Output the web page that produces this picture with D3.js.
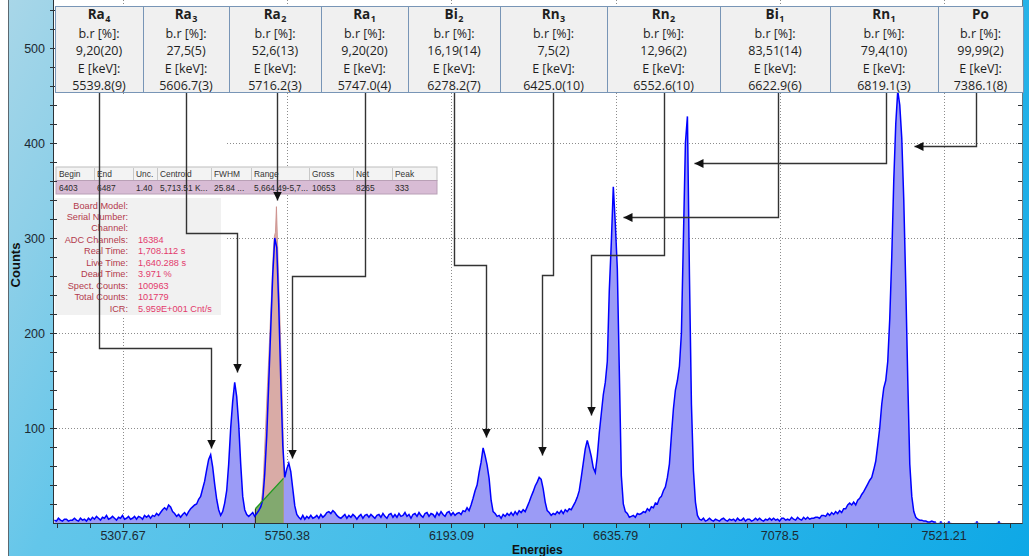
<!DOCTYPE html>
<html>
<head>
<meta charset="utf-8">
<script src="https://cdn.jsdelivr.net/npm/d3@7"></script>
<style>
  html, body { margin: 0; padding: 0; background: #fff; }
  svg { display: block; }
</style>
</head>
<body>
<svg id="chart" width="1029" height="556"></svg>
<script>
// ---------------- data ----------------
// Alpha spectrum, counts per 5.4 keV bin starting at 5120 keV
const binStart = 5120;
const binWidth = 5.4;
const spectrumCounts = [
  3,2,5,3,2,4,4,2,3,3,
  5,3,2,5,3,4,2,5,3,6,
  4,7,5,3,6,5,8,4,5,7,
  5,3,6,5,8,4,5,7,4,5,
  7,4,7,6,4,8,6,8,5,8,
  7,10,8,11,14,16,14,19,17,12,
  10,7,9,6,9,11,8,12,15,17,
  19,20,25,28,36,44,56,67,72,59,
  41,25,14,8,12,21,34,62,100,128,
  148,133,104,62,28,14,9,7,9,11,
  7,10,13,17,24,52,92,148,205,262,
  300,290,228,150,82,48,57,63,54,36,
  18,9,6,4,8,4,7,5,8,5,
  6,8,5,9,6,8,11,12,10,13,
  11,8,6,5,7,9,5,8,6,9,
  7,4,7,9,5,8,9,6,9,7,
  5,8,9,6,10,7,5,9,10,6,
  9,6,10,7,8,11,7,9,5,9,
  10,7,11,8,6,10,11,7,10,9,
  6,11,8,12,9,7,11,12,8,11,
  8,10,11,9,13,12,16,13,19,26,
  34,40,53,64,79,71,61,47,24,12,
  10,7,8,5,9,7,10,8,11,8,
  12,9,13,11,14,12,17,22,28,33,
  39,43,48,46,36,22,13,11,8,10,
  9,12,10,13,10,14,12,15,14,18,
  22,27,34,48,63,78,87,79,70,58,
  53,70,95,115,135,148,170,245,295,354,
  315,268,160,50,20,12,10,6,7,8,
  6,10,9,10,12,11,15,13,17,16,
  21,20,26,28,34,38,48,62,92,120,
  140,150,165,200,300,400,428,262,125,55,
  22,8,4,3,5,2,3,5,3,2,
  4,3,2,4,5,3,2,4,3,4,
  2,5,3,3,5,2,4,4,2,3,
  5,3,5,3,2,4,3,5,3,5,
  3,4,2,5,5,3,4,3,6,4,
  3,6,4,3,6,4,6,4,5,5,
  6,6,5,8,8,7,10,8,11,9,
  12,10,13,11,15,15,19,21,19,22,
  19,24,26,30,33,37,41,45,48,56,
  65,82,100,125,142,150,170,215,280,360,
  420,455,440,405,340,250,150,62,28,12,
  6,4,3,3,2,2,1,1,2,1,
  1,0,1,1,0,0,1,1,0,0,
  0,0,0,0,0,0,0,0,0,0,
  1,1,0,0,0,0,0,0,0,0,
  0,1,1,0,0,0,0,0,0,0,
  0,0,0
];

// Region of interest (Ra-2 line): channel contents and linear background
const roiStart = 5664.49;
const roiStep = 2.7;
const roiCounts = [14,15,16,17,18,20,24,32,48,72,96,120,144,166,190,214,238,264,288,302,306,333,300,264,232,198,164,124,80];
const roiBackground = [15, 47];

// Peak annotations
const peakNames   = ["Ra", "Ra", "Ra", "Ra", "Bi", "Rn", "Rn", "Bi", "Rn", "Po"];
const peakSubs    = ["4", "3", "2", "1", "2", "3", "2", "1", "1", ""];
const peakBr      = ["9,20(20)", "27,5(5)", "52,6(13)", "9,20(20)", "16,19(14)", "7,5(2)", "12,96(2)", "83,51(14)", "79,4(10)", "99,99(2)"];
const peakEnergy  = ["5539.8(9)", "5606.7(3)", "5716.2(3)", "5747.0(4)", "6278.2(7)", "6425.0(10)", "6552.6(10)", "6622.9(6)", "6819.1(3)", "7386.1(8)"];
// arrow routes in keV / counts: leave header at `from`, turn at `elbow`, end at `tip`
const arrowRoutes = [
  { from: 5242.9, elbow: 184.2, tip: [5544.8, 78.9] },
  { from: 5476.1, elbow: 305.3, tip: [5616.2, 158.9] },
  { from: 5722.7, elbow: null,  tip: [5722.7, 340.0] },
  { from: 5959.9, elbow: 260.0, tip: [5763.2, 68.4] },
  { from: 6201.2, elbow: 271.6, tip: [6286.1, 90.5] },
  { from: 6465.4, elbow: 261.1, tip: [6437.1, 71.6] },
  { from: 6766.0, elbow: 282.1, tip: [6569.2, 113.7] },
  { from: 7073.3, elbow: 322.1, tip: [6655.4, 322.1] },
  { from: 7364.4, elbow: 378.9, tip: [6846.8, 378.9] },
  { from: 7608.3, elbow: 396.8, tip: [7439.9, 396.8] }
];

// Axis ticks
const xMajorTicks = [5307.67, 5750.38, 6193.09, 6635.79, 7078.5, 7521.21];
const yMajorTicks = [100, 200, 300, 400, 500];

// ROI table and acquisition info
const tableHeaders = ["Begin", "End", "Unc.", "Centroid", "FWHM", "Range", "Gross", "Net", "Peak"];
const tableValues  = ["6403", "6487", "1.40", "5,713.51 K...", "25.84 ...", "5,664.49-5,7...", "10653", "8265", "333"];
const infoLabels = ["Board Model:", "Serial Number:", "Channel:", "ADC Channels:", "Real Time:", "Live Time:", "Dead Time:", "Spect. Counts:", "Total Counts:", "ICR:"];
const infoValues = ["", "", "", "16384", "1,708.112 s", "1,640.288 s", "3.971 %", "100963", "101779", "5.959E+001 Cnt/s"];

// ---------------- layout ----------------
const W = 1029, H = 556;
const plotL = 53, plotR = 1022, plotB = 523;
const boxEdges = [55, 143, 229, 321, 408, 500, 607, 720, 830, 938, 1023];
const boxTop = 6, boxBottom = 92;
const tableCols = [56, 94, 133, 157, 211, 251, 309, 353, 392, 437];

const x = d3.scaleLinear().domain([5118.9, 7731]).range([plotL, plotR]);
const y = d3.scaleLinear().domain([0, 545]).range([plotB, 5.25]);

const svg = d3.select("#chart");
const defs = svg.append("defs");

// window background
const grad = defs.append("linearGradient").attr("id", "bg")
  .attr("gradientUnits", "userSpaceOnUse")
  .attr("x1", 0).attr("y1", 0).attr("x2", W).attr("y2", H);
[[0, "#aad7e8"], [0.12, "#8ccfe8"], [0.25, "#63c6ea"], [0.6, "#3bbbe9"], [1, "#0ea8e6"]]
  .forEach(([o, c]) => grad.append("stop").attr("offset", o).attr("stop-color", c));

defs.append("clipPath").attr("id", "plotClip").append("rect")
  .attr("x", plotL).attr("y", 0).attr("width", plotR - plotL).attr("height", plotB);

defs.append("marker").attr("id", "arrowHead")
  .attr("markerUnits", "userSpaceOnUse")
  .attr("markerWidth", 10).attr("markerHeight", 10)
  .attr("refX", 9).attr("refY", 4.5).attr("orient", "auto")
  .append("path").attr("d", "M0,0 L9,4.5 L0,9 Z").attr("fill", "#111");

svg.append("rect").attr("width", W).attr("height", H).attr("fill", "url(#bg)");
svg.append("rect").attr("x", 0).attr("y", 0).attr("width", 8).attr("height", H).attr("fill", "#fff");
svg.append("line").attr("x1", 8.5).attr("x2", 8.5).attr("y1", 0).attr("y2", H)
  .attr("stroke", "#5b6870").attr("stroke-width", 1);

// plot area
svg.append("rect").attr("x", plotL).attr("y", 0)
  .attr("width", plotR - plotL + 1).attr("height", plotB).attr("fill", "#fff");

// dotted grid
const grid = svg.append("g").attr("stroke", "#8c8c8c").attr("stroke-width", 1)
  .attr("stroke-dasharray", "1,2");
xMajorTicks.forEach(v => grid.append("line")
  .attr("x1", Math.round(x(v)) + 0.5).attr("x2", Math.round(x(v)) + 0.5)
  .attr("y1", 0).attr("y2", plotB));
yMajorTicks.forEach(v => grid.append("line")
  .attr("x1", plotL).attr("x2", plotR)
  .attr("y1", Math.round(y(v)) + 0.5).attr("y2", Math.round(y(v)) + 0.5));

// spectrum
const spec = spectrumCounts.map((c, i) => ({ e: binStart + binWidth * (i + 0.5), c }));
const roi = roiCounts.map((c, k) => ({ e: roiStart + roiStep * k, c }));
const roiEnd = roiStart + roiStep * (roiCounts.length - 1);

const gSpec = svg.append("g").attr("clip-path", "url(#plotClip)");
gSpec.append("path").datum(spec)
  .attr("fill", "#9b9bf6")
  .attr("d", d3.area().x(d => x(d.e)).y0(y(0)).y1(d => y(d.c)));

gSpec.append("path").datum(roi)
  .attr("fill", "#d9aba6").attr("stroke", "#c98a86").attr("stroke-width", 0.8)
  .attr("d", d3.area().x(d => x(d.e)).y0(y(0)).y1(d => y(d.c)));

const bgPts = [{ e: roiStart, c: roiBackground[0] }, { e: roiEnd, c: roiBackground[1] }];
gSpec.append("path").datum(bgPts)
  .attr("fill", "#82a96f")
  .attr("d", d3.area().x(d => x(d.e)).y0(y(0)).y1(d => y(d.c)));
gSpec.append("line")
  .attr("x1", x(roiStart)).attr("x2", x(roiStart))
  .attr("y1", y(0)).attr("y2", y(roiBackground[0]))
  .attr("stroke", "#222").attr("stroke-width", 1);

gSpec.append("path").datum(spec)
  .attr("fill", "none").attr("stroke", "#0000ff").attr("stroke-width", 1.5)
  .attr("stroke-linejoin", "miter")
  .attr("d", d3.line().defined(d => d.c > 0).x(d => x(d.e)).y(d => y(d.c)));

gSpec.append("path").datum(bgPts)
  .attr("fill", "none").attr("stroke", "#1f9a1f").attr("stroke-width", 1.3)
  .attr("d", d3.line().x(d => x(d.e)).y(d => y(d.c)));

// panel that sits behind the acquisition info
svg.append("rect").attr("x", 54).attr("y", 94).attr("width", 171).attr("height", 222).attr("fill", "#fff");
svg.append("rect").attr("x", 55).attr("y", 198).attr("width", 166).attr("height", 117).attr("fill", "#f1f1f1");
const info = svg.append("g").attr("font-family", "'Liberation Sans', Arial, sans-serif").attr("font-size", "9.2px");
infoLabels.forEach((t, k) => {
  const by = 208.5 + k * 11.48;
  info.append("text").attr("x", 128).attr("y", by).attr("text-anchor", "end")
    .attr("fill", "#b33a4c").text(t);
  if (infoValues[k]) info.append("text").attr("x", 138).attr("y", by)
    .attr("fill", "#e33a6c").text(infoValues[k]);
});

// ROI table
const tbl = svg.append("g").attr("font-family", "'Liberation Sans', Arial, sans-serif").attr("font-size", "8.4px");
tbl.append("rect").attr("x", tableCols[0]).attr("y", 167).attr("width", tableCols[9] - tableCols[0]).attr("height", 13.5)
  .attr("fill", "#f3f3f3").attr("stroke", "#bdbdbd");
tbl.append("rect").attr("x", tableCols[0]).attr("y", 180.5).attr("width", tableCols[9] - tableCols[0]).attr("height", 13.5)
  .attr("fill", "#d8bcd5").attr("stroke", "#b9a0b6");
tableHeaders.forEach((h, k) => {
  if (k > 0) tbl.append("line").attr("x1", tableCols[k] + 0.5).attr("x2", tableCols[k] + 0.5)
    .attr("y1", 168).attr("y2", 180).attr("stroke", "#c8c8c8");
  tbl.append("text").attr("x", tableCols[k] + 3).attr("y", 177).attr("fill", "#333").text(h);
  tbl.append("text").attr("x", tableCols[k] + 3).attr("y", 191).attr("fill", "#2a2a2a").text(tableValues[k]);
});

// axes
const axes = svg.append("g").attr("stroke", "#2c3338").attr("stroke-width", 1);
axes.append("line").attr("x1", plotL + 0.5).attr("x2", plotL + 0.5).attr("y1", 0).attr("y2", plotB + 0.5);
axes.append("line").attr("x1", plotL).attr("x2", plotR + 1).attr("y1", plotB + 0.5).attr("y2", plotB + 0.5);
axes.append("line").attr("x1", plotR + 0.5).attr("x2", plotR + 0.5).attr("y1", 0).attr("y2", plotB + 0.5)
  .attr("stroke", "#6a7a84");

const yMinor = d3.range(20, 545, 20);
yMinor.forEach(v => {
  const py = Math.round(y(v)) + 0.5;
  axes.append("line").attr("x1", plotL - 3).attr("x2", plotL + 4).attr("y1", py).attr("y2", py);
  axes.append("line").attr("x1", plotR - 4).attr("x2", plotR).attr("y1", py).attr("y2", py);
});
const xStep = (xMajorTicks[1] - xMajorTicks[0]) / 5;
const xMinor = d3.range(-2, 5 * (xMajorTicks.length - 1) + 3).map(k => xMajorTicks[0] + k * xStep)
  .filter(v => x(v) > plotL + 1 && x(v) < plotR);
xMinor.forEach(v => {
  const px = Math.round(x(v)) + 0.5;
  axes.append("line").attr("x1", px).attr("x2", px).attr("y1", plotB).attr("y2", plotB + 5);
});

const labels = svg.append("g").attr("font-family", "'Liberation Sans', Arial, sans-serif").attr("fill", "#1c2a33");
yMajorTicks.forEach(v => labels.append("text")
  .attr("x", 45).attr("y", y(v) + 4.5).attr("text-anchor", "end")
  .attr("font-size", "12.5px").text(v));
xMajorTicks.forEach(v => labels.append("text")
  .attr("x", x(v)).attr("y", 540).attr("text-anchor", "middle")
  .attr("font-size", "12.5px").text(v));
labels.append("text").attr("x", 512).attr("y", 554).attr("font-weight", "bold")
  .attr("font-size", "12px").attr("fill", "#111").text("Energies");
labels.append("text").attr("transform", "translate(20,265) rotate(-90)")
  .attr("text-anchor", "middle").attr("font-weight", "bold")
  .attr("font-size", "13px").attr("fill", "#111").text("Counts");

// annotation arrows
const arrows = svg.append("g").attr("fill", "none").attr("stroke", "#333").attr("stroke-width", 1.4);
arrowRoutes.forEach(r => {
  const pts = [[x(r.from), boxBottom]];
  if (r.elbow !== null) {
    pts.push([x(r.from), y(r.elbow)]);
    pts.push([x(r.tip[0]), y(r.elbow)]);
    if (r.tip[1] !== r.elbow) pts.push([x(r.tip[0]), y(r.tip[1])]);
  } else {
    pts.push([x(r.tip[0]), y(r.tip[1])]);
  }
  arrows.append("path")
    .attr("d", d3.line()(pts.map(p => [Math.round(p[0]) + 0.5, Math.round(p[1]) + 0.5])))
    .attr("marker-end", "url(#arrowHead)");
});

// header boxes
const head = svg.append("g").attr("font-family", "'Open Sans', 'Liberation Sans', sans-serif")
  .attr("fill", "#1e1e1e");
peakNames.forEach((name, k) => {
  const x0 = boxEdges[k], x1 = boxEdges[k + 1], cx = (x0 + x1) / 2;
  head.append("rect").attr("x", x0 + 0.5).attr("y", boxTop + 0.5)
    .attr("width", x1 - x0).attr("height", boxBottom - boxTop)
    .attr("fill", "#f0f0f0").attr("stroke", "#7895b6").attr("stroke-width", 1);
  // nuclide symbol with its index as a subscript
  const tn = head.append("text").attr("y", 19).attr("font-weight", "bold")
    .attr("font-size", "13.5px").text(name);
  let wSub = 0, ts = null;
  if (peakSubs[k]) {
    ts = head.append("text").attr("y", 21.5).attr("font-weight", "bold")
      .attr("font-size", "9px").text(peakSubs[k]);
    wSub = ts.node().getComputedTextLength() + 0.5;
  }
  const wName = tn.node().getComputedTextLength();
  const start = cx - (wName + wSub) / 2;
  tn.attr("x", start);
  if (ts) ts.attr("x", start + wName + 0.5);
  const rows = ["b.r [%]:", peakBr[k], "E [keV]:", peakEnergy[k]];
  rows.forEach((s, j) => head.append("text").attr("x", cx).attr("y", 37.6 + j * 17.5)
    .attr("text-anchor", "middle").attr("font-size", "12.5px").text(s));
});
</script>
</body>
</html>
